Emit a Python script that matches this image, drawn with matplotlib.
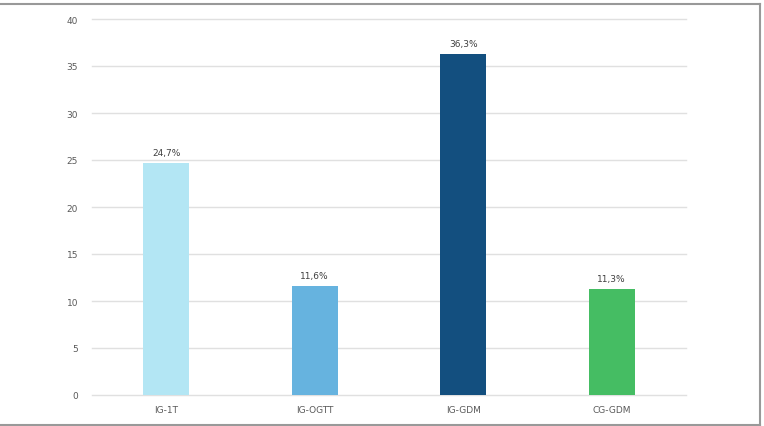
import matplotlib.pyplot as plt
from matplotlib.lines import Line2D

categories = ["IG-1T", "IG-OGTT", "IG-GDM", "CG-GDM"]
values = [24.7, 11.6, 36.3, 11.3]
labels = ["24,7%", "11,6%", "36,3%", "11,3%"]
colors = ["#b3e6f4", "#66b3df", "#134f7f", "#45bd63"]
yticks = [0, 5, 10, 15, 20, 25, 30, 35, 40]

W, H = 764, 427
fig = plt.figure(figsize=(W / 100, H / 100), dpi=100)
ax = fig.add_axes([92 / W, 1 - 396 / H, (686 - 92) / W, (396 - 20) / H])

x = range(len(categories))
bars = ax.bar(x, values, width=0.31, color=colors, zorder=3)
for b, lab in zip(bars, labels):
    ax.text(b.get_x() + b.get_width() / 2, b.get_height() + 0.6, lab,
            ha="center", va="bottom", fontsize=6.5, color="#404040")

ax.set_xlim(-0.5, len(categories) - 0.5)
ax.set_ylim(0, 40)
ax.set_yticks(yticks)
ax.set_xticks(list(x))
ax.set_xticklabels(categories)
ax.grid(axis="y", color="#e0e0e0", linewidth=1, zorder=0)
for gl in ax.get_ygridlines():
    gl.set_clip_on(False)
for s in ax.spines.values():
    s.set_visible(False)
ax.tick_params(length=0, labelsize=6.5, labelcolor="#595959")
ax.tick_params(axis="y", pad=10)
ax.tick_params(axis="x", pad=7)

# outer frame: top, right, bottom
frame = "#999999"
fig.add_artist(Line2D([0, 760 / W], [1 - 4.5 / H] * 2, color=frame, lw=1.5))
fig.add_artist(Line2D([760 / W] * 2, [1 - 4.5 / H, 1 - 426 / H], color=frame, lw=1.5))
fig.add_artist(Line2D([0, 760 / W], [1 - 426 / H] * 2, color=frame, lw=1.5))

fig.savefig("out.png", dpi=100)
